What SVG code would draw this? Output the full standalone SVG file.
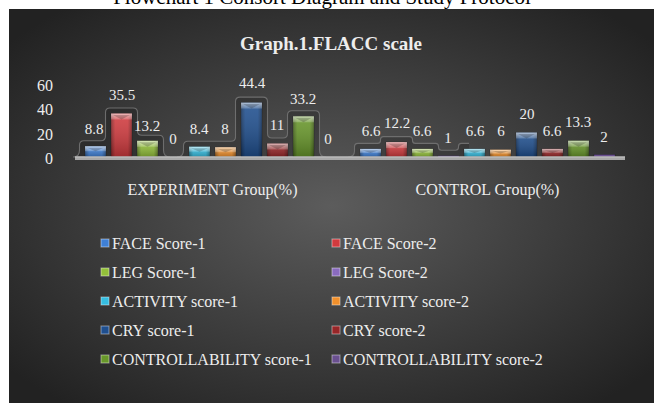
<svg xmlns="http://www.w3.org/2000/svg" width="654" height="403" viewBox="0 0 654 403">
  <defs>
    <radialGradient id="bgGrad" cx="0.5" cy="0.5" r="0.65">
      <stop offset="0" stop-color="#5c5c5c"/>
      <stop offset="1" stop-color="#222222"/>
    </radialGradient>
    <!-- darker sides of each column -->
    <linearGradient id="side" x1="0" y1="0" x2="1" y2="0">
      <stop offset="0" stop-color="#000" stop-opacity="0.35"/>
      <stop offset="0.2" stop-color="#000" stop-opacity="0"/>
      <stop offset="0.8" stop-color="#000" stop-opacity="0"/>
      <stop offset="1" stop-color="#000" stop-opacity="0.35"/>
    </linearGradient>
    <!-- vertical shading: light top, dark foot -->
    <linearGradient id="vshade" x1="0" y1="0" x2="0" y2="1">
      <stop offset="0" stop-color="#fff" stop-opacity="0.12"/>
      <stop offset="1" stop-color="#000" stop-opacity="0.25"/>
    </linearGradient>
    <linearGradient id="cap" x1="0" y1="0" x2="0" y2="1">
      <stop offset="0" stop-color="#fff" stop-opacity="0.6"/>
      <stop offset="1" stop-color="#fff" stop-opacity="0.2"/>
    </linearGradient>
  </defs>
  <style>
    text { font-family: "Liberation Serif", "Times New Roman", serif; fill: #ededed; }
    .top { fill: #000; font-size: 21px; text-anchor: middle; }
    .title { font-size: 19px; font-weight: bold; text-anchor: middle; }
    .ax { font-size: 16px; text-anchor: end; }
    .cat { font-size: 16px; text-anchor: middle; }
    .lbl { font-size: 15px; text-anchor: middle; }
    .leg { font-size: 16px; }
    .glow { fill: #000; fill-opacity: 0.18; stroke: #737373; stroke-width: 1.1; stroke-opacity: 0.9; }
    .glow-open { fill: none; stroke: #737373; stroke-width: 1.1; stroke-opacity: 0.9; }
    .bar > rect:first-child { stroke: #000; stroke-opacity: 0.35; stroke-width: 0.6; }
    .tri { fill: #000; fill-opacity: 0.2; }
    .s0 { fill: #3f80d6; }
    .s1 { fill: #d23a3e; }
    .s2 { fill: #93c03a; }
    .s3 { fill: #8a6bbf; }
    .s4 { fill: #36bde0; }
    .s5 { fill: #f0902c; }
    .s6 { fill: #1f4f8f; }
    .s7 { fill: #982628; }
    .s8 { fill: #68972a; }
    .s9 { fill: #6a5090; }
    .key { stroke: #ffffff; stroke-opacity: 0.45; stroke-width: 1; }
  </style>

  <!-- page heading, partly above the chart panel -->
  <text class="top" x="322" y="4">Flowchart 1 Consort Diagram and Study Protocol</text>

  <!-- chart panel -->
  <rect x="9" y="9" width="645" height="394" fill="url(#bgGrad)"/>
  <text class="title" x="331" y="50">Graph.1.FLACC scale</text>

  <!-- value axis labels -->
  <g id="axis">
    <text class="ax" x="53" y="90.5">60</text>
    <text class="ax" x="53" y="115">40</text>
    <text class="ax" x="53" y="139.5">20</text>
    <text class="ax" x="53" y="164">0</text>
  </g>

  <!-- soft outlines around column clusters -->
  <g id="glows">
    <path class="glow" d="M73 157 Q79.5 157 79.5 150 V145 Q79.5 140.7 84 140.7 H101 Q105.5 140.7 105.5 136 V112.5 Q105.5 108 110 108 H133 Q137.5 108 137.5 112.5 V131 Q137.5 135.3 142 135.3 H159 Q163.5 135.3 163.5 140 V150 Q163.5 157 170 157 Z"/>
    <path class="glow" d="M177 157 Q183.5 157 183.5 150 V145.7 Q183.5 141.2 188 141.2 H231 Q235.5 141.2 235.5 137 V101.5 Q235.5 97.1 240 97.1 H263 Q267.5 97.1 267.5 101.5 V133.5 Q267.5 138 272 138 H283 Q287.5 138 287.5 133.5 V115.3 Q287.5 110.8 292 110.8 H315 Q319.5 110.8 319.5 115.3 V150 Q319.5 157 326 157 Z"/>
    <path d="M348 157 Q354.5 157 354.5 151 V147 Q354.5 143.4 358 143.4 H377.5 Q380.5 143.4 380.5 140.4 V139.6 Q380.5 136.6 383.5 136.6 H409.5 Q412.5 136.6 412.5 139.6 V140.4 Q412.5 143.4 415.5 143.4 H435.5 Q438.5 143.4 438.5 146.4 V147.3 Q438.5 150.3 441.5 150.3 H455.5 Q458.5 150.3 458.5 147.3 V146.4 Q458.5 143.4 461.5 143.4 H469 V157 Z" fill="#000" fill-opacity="0.18"/>
    <path class="glow-open" d="M348 157 Q354.5 157 354.5 151 V147 Q354.5 143.4 358 143.4 H377.5 Q380.5 143.4 380.5 140.4 V139.6 Q380.5 136.6 383.5 136.6 H409.5 Q412.5 136.6 412.5 139.6 V140.4 Q412.5 143.4 415.5 143.4 H435.5 Q438.5 143.4 438.5 146.4 V147.3 Q438.5 150.3 441.5 150.3 H455.5 Q458.5 150.3 458.5 147.3 V146.4 Q458.5 143.4 461.5 143.4 H469"/>
  </g>

  <!-- EXPERIMENT group columns -->
  <g id="experiment">
    <g class="bar s0"><rect x="85" y="146.2" width="21" height="10.8"/><rect x="85" y="146.2" width="21" height="10.8" fill="url(#side)"/><rect x="85" y="146.2" width="21" height="10.8" fill="url(#vshade)"/><rect x="85" y="146.2" width="21" height="5" fill="url(#cap)"/><path class="tri" d="M87 147.7 H104 L95.5 151.2 Z"/></g>
    <g class="bar s1"><rect x="111" y="113.5" width="21" height="43.5"/><rect x="111" y="113.5" width="21" height="43.5" fill="url(#side)"/><rect x="111" y="113.5" width="21" height="43.5" fill="url(#vshade)"/><rect x="111" y="113.5" width="21" height="6" fill="url(#cap)"/><path class="tri" d="M113 115 H130 L121.5 119.5 Z"/></g>
    <g class="bar s2"><rect x="137" y="140.8" width="21" height="16.2"/><rect x="137" y="140.8" width="21" height="16.2" fill="url(#side)"/><rect x="137" y="140.8" width="21" height="16.2" fill="url(#vshade)"/><rect x="137" y="140.8" width="21" height="6" fill="url(#cap)"/><path class="tri" d="M139 142.3 H156 L147.5 146.8 Z"/></g>
    <g class="bar s4"><rect x="189" y="146.7" width="21" height="10.3"/><rect x="189" y="146.7" width="21" height="10.3" fill="url(#side)"/><rect x="189" y="146.7" width="21" height="10.3" fill="url(#vshade)"/><rect x="189" y="146.7" width="21" height="5" fill="url(#cap)"/><path class="tri" d="M191 148.2 H208 L199.5 151.7 Z"/></g>
    <g class="bar s5"><rect x="215" y="147.2" width="21" height="9.8"/><rect x="215" y="147.2" width="21" height="9.8" fill="url(#side)"/><rect x="215" y="147.2" width="21" height="9.8" fill="url(#vshade)"/><rect x="215" y="147.2" width="21" height="5" fill="url(#cap)"/><path class="tri" d="M217 148.7 H234 L225.5 152.2 Z"/></g>
    <g class="bar s6"><rect x="241" y="102.6" width="21" height="54.4"/><rect x="241" y="102.6" width="21" height="54.4" fill="url(#side)"/><rect x="241" y="102.6" width="21" height="54.4" fill="url(#vshade)"/><rect x="241" y="102.6" width="21" height="6" fill="url(#cap)"/><path class="tri" d="M243 104.1 H260 L251.5 108.6 Z"/></g>
    <g class="bar s7"><rect x="267" y="143.5" width="21" height="13.5"/><rect x="267" y="143.5" width="21" height="13.5" fill="url(#side)"/><rect x="267" y="143.5" width="21" height="13.5" fill="url(#vshade)"/><rect x="267" y="143.5" width="21" height="6" fill="url(#cap)"/><path class="tri" d="M269 145 H286 L277.5 149.5 Z"/></g>
    <g class="bar s8"><rect x="293" y="116.3" width="21" height="40.7"/><rect x="293" y="116.3" width="21" height="40.7" fill="url(#side)"/><rect x="293" y="116.3" width="21" height="40.7" fill="url(#vshade)"/><rect x="293" y="116.3" width="21" height="6" fill="url(#cap)"/><path class="tri" d="M295 117.8 H312 L303.5 122.3 Z"/></g>
  </g>

  <!-- CONTROL group columns -->
  <g id="control">
    <g class="bar s0"><rect x="360" y="148.9" width="21" height="8.1"/><rect x="360" y="148.9" width="21" height="8.1" fill="url(#side)"/><rect x="360" y="148.9" width="21" height="8.1" fill="url(#vshade)"/><rect x="360" y="148.9" width="21" height="4" fill="url(#cap)"/><path class="tri" d="M362 150.2 H379 L370.5 153 Z"/></g>
    <g class="bar s1"><rect x="386" y="142.1" width="21" height="14.9"/><rect x="386" y="142.1" width="21" height="14.9" fill="url(#side)"/><rect x="386" y="142.1" width="21" height="14.9" fill="url(#vshade)"/><rect x="386" y="142.1" width="21" height="6" fill="url(#cap)"/><path class="tri" d="M388 143.6 H405 L396.5 148.1 Z"/></g>
    <g class="bar s2"><rect x="412" y="148.9" width="21" height="8.1"/><rect x="412" y="148.9" width="21" height="8.1" fill="url(#side)"/><rect x="412" y="148.9" width="21" height="8.1" fill="url(#vshade)"/><rect x="412" y="148.9" width="21" height="4" fill="url(#cap)"/><path class="tri" d="M414 150.2 H431 L422.5 153 Z"/></g>
    <g class="bar s3"><rect x="438" y="155.8" width="21" height="1.2"/></g>
    <g class="bar s4"><rect x="464" y="148.9" width="21" height="8.1"/><rect x="464" y="148.9" width="21" height="8.1" fill="url(#side)"/><rect x="464" y="148.9" width="21" height="8.1" fill="url(#vshade)"/><rect x="464" y="148.9" width="21" height="4" fill="url(#cap)"/><path class="tri" d="M466 150.2 H483 L474.5 153 Z"/></g>
    <g class="bar s5"><rect x="490" y="149.7" width="21" height="7.3"/><rect x="490" y="149.7" width="21" height="7.3" fill="url(#side)"/><rect x="490" y="149.7" width="21" height="7.3" fill="url(#vshade)"/><rect x="490" y="149.7" width="21" height="4" fill="url(#cap)"/><path class="tri" d="M492 151 H509 L500.5 153.6 Z"/></g>
    <g class="bar s6"><rect x="516" y="132.5" width="21" height="24.5"/><rect x="516" y="132.5" width="21" height="24.5" fill="url(#side)"/><rect x="516" y="132.5" width="21" height="24.5" fill="url(#vshade)"/><rect x="516" y="132.5" width="21" height="6" fill="url(#cap)"/><path class="tri" d="M518 134 H535 L526.5 138.5 Z"/></g>
    <g class="bar s7"><rect x="542" y="148.9" width="21" height="8.1"/><rect x="542" y="148.9" width="21" height="8.1" fill="url(#side)"/><rect x="542" y="148.9" width="21" height="8.1" fill="url(#vshade)"/><rect x="542" y="148.9" width="21" height="4" fill="url(#cap)"/><path class="tri" d="M544 150.2 H561 L552.5 153 Z"/></g>
    <g class="bar s8"><rect x="568" y="140.7" width="21" height="16.3"/><rect x="568" y="140.7" width="21" height="16.3" fill="url(#side)"/><rect x="568" y="140.7" width="21" height="16.3" fill="url(#vshade)"/><rect x="568" y="140.7" width="21" height="6" fill="url(#cap)"/><path class="tri" d="M570 142.2 H587 L578.5 146.7 Z"/></g>
    <g class="bar s9"><rect x="594" y="154.5" width="21" height="2.5"/></g>
  </g>

  <!-- floor -->
  <rect x="75" y="156.5" width="550" height="3.5" fill="#a8a8a8"/>
  <rect x="75" y="156.5" width="550" height="1" fill="#c4c4c4"/>

  <!-- data labels -->
  <g id="labels">
    <text class="lbl" x="94" y="134">8.8</text>
    <text class="lbl" x="122" y="100">35.5</text>
    <text class="lbl" x="147" y="131">13.2</text>
    <text class="lbl" x="173" y="144">0</text>
    <text class="lbl" x="199" y="134">8.4</text>
    <text class="lbl" x="225" y="134">8</text>
    <text class="lbl" x="252" y="88">44.4</text>
    <text class="lbl" x="277" y="130">11</text>
    <text class="lbl" x="303" y="104">33.2</text>
    <text class="lbl" x="328" y="144">0</text>
    <text class="lbl" x="371" y="136">6.6</text>
    <text class="lbl" x="397" y="128">12.2</text>
    <text class="lbl" x="422" y="136">6.6</text>
    <text class="lbl" x="448" y="143">1</text>
    <text class="lbl" x="475" y="136">6.6</text>
    <text class="lbl" x="501" y="136">6</text>
    <text class="lbl" x="527" y="119">20</text>
    <text class="lbl" x="552" y="136">6.6</text>
    <text class="lbl" x="578" y="127">13.3</text>
    <text class="lbl" x="604" y="142">2</text>
  </g>

  <!-- category labels -->
  <text class="cat" x="212.5" y="195">EXPERIMENT Group(%)</text>
  <text class="cat" x="487.5" y="195">CONTROL Group(%)</text>

  <!-- legend -->
  <g id="legend">
    <g id="key-face1"><rect class="key s0" x="101" y="239" width="8" height="8"/><text class="leg" x="112" y="248.5">FACE Score-1</text></g>
    <g id="key-face2"><rect class="key s1" x="332" y="239" width="8" height="8"/><text class="leg" x="343" y="248.5">FACE Score-2</text></g>
    <g id="key-leg1"><rect class="key s2" x="101" y="268" width="8" height="8"/><text class="leg" x="112" y="277.5">LEG Score-1</text></g>
    <g id="key-leg2"><rect class="key s3" x="332" y="268" width="8" height="8"/><text class="leg" x="343" y="277.5">LEG Score-2</text></g>
    <g id="key-activity1"><rect class="key s4" x="101" y="297" width="8" height="8"/><text class="leg" x="112" y="306.5">ACTIVITY score-1</text></g>
    <g id="key-activity2"><rect class="key s5" x="332" y="297" width="8" height="8"/><text class="leg" x="343" y="306.5">ACTIVITY score-2</text></g>
    <g id="key-cry1"><rect class="key s6" x="101" y="326" width="8" height="8"/><text class="leg" x="112" y="335.5">CRY score-1</text></g>
    <g id="key-cry2"><rect class="key s7" x="332" y="326" width="8" height="8"/><text class="leg" x="343" y="335.5">CRY score-2</text></g>
    <g id="key-control1"><rect class="key s8" x="101" y="355" width="8" height="8"/><text class="leg" x="112" y="364.5">CONTROLLABILITY score-1</text></g>
    <g id="key-control2"><rect class="key s9" x="332" y="355" width="8" height="8"/><text class="leg" x="343" y="364.5">CONTROLLABILITY score-2</text></g>
  </g>
</svg>
